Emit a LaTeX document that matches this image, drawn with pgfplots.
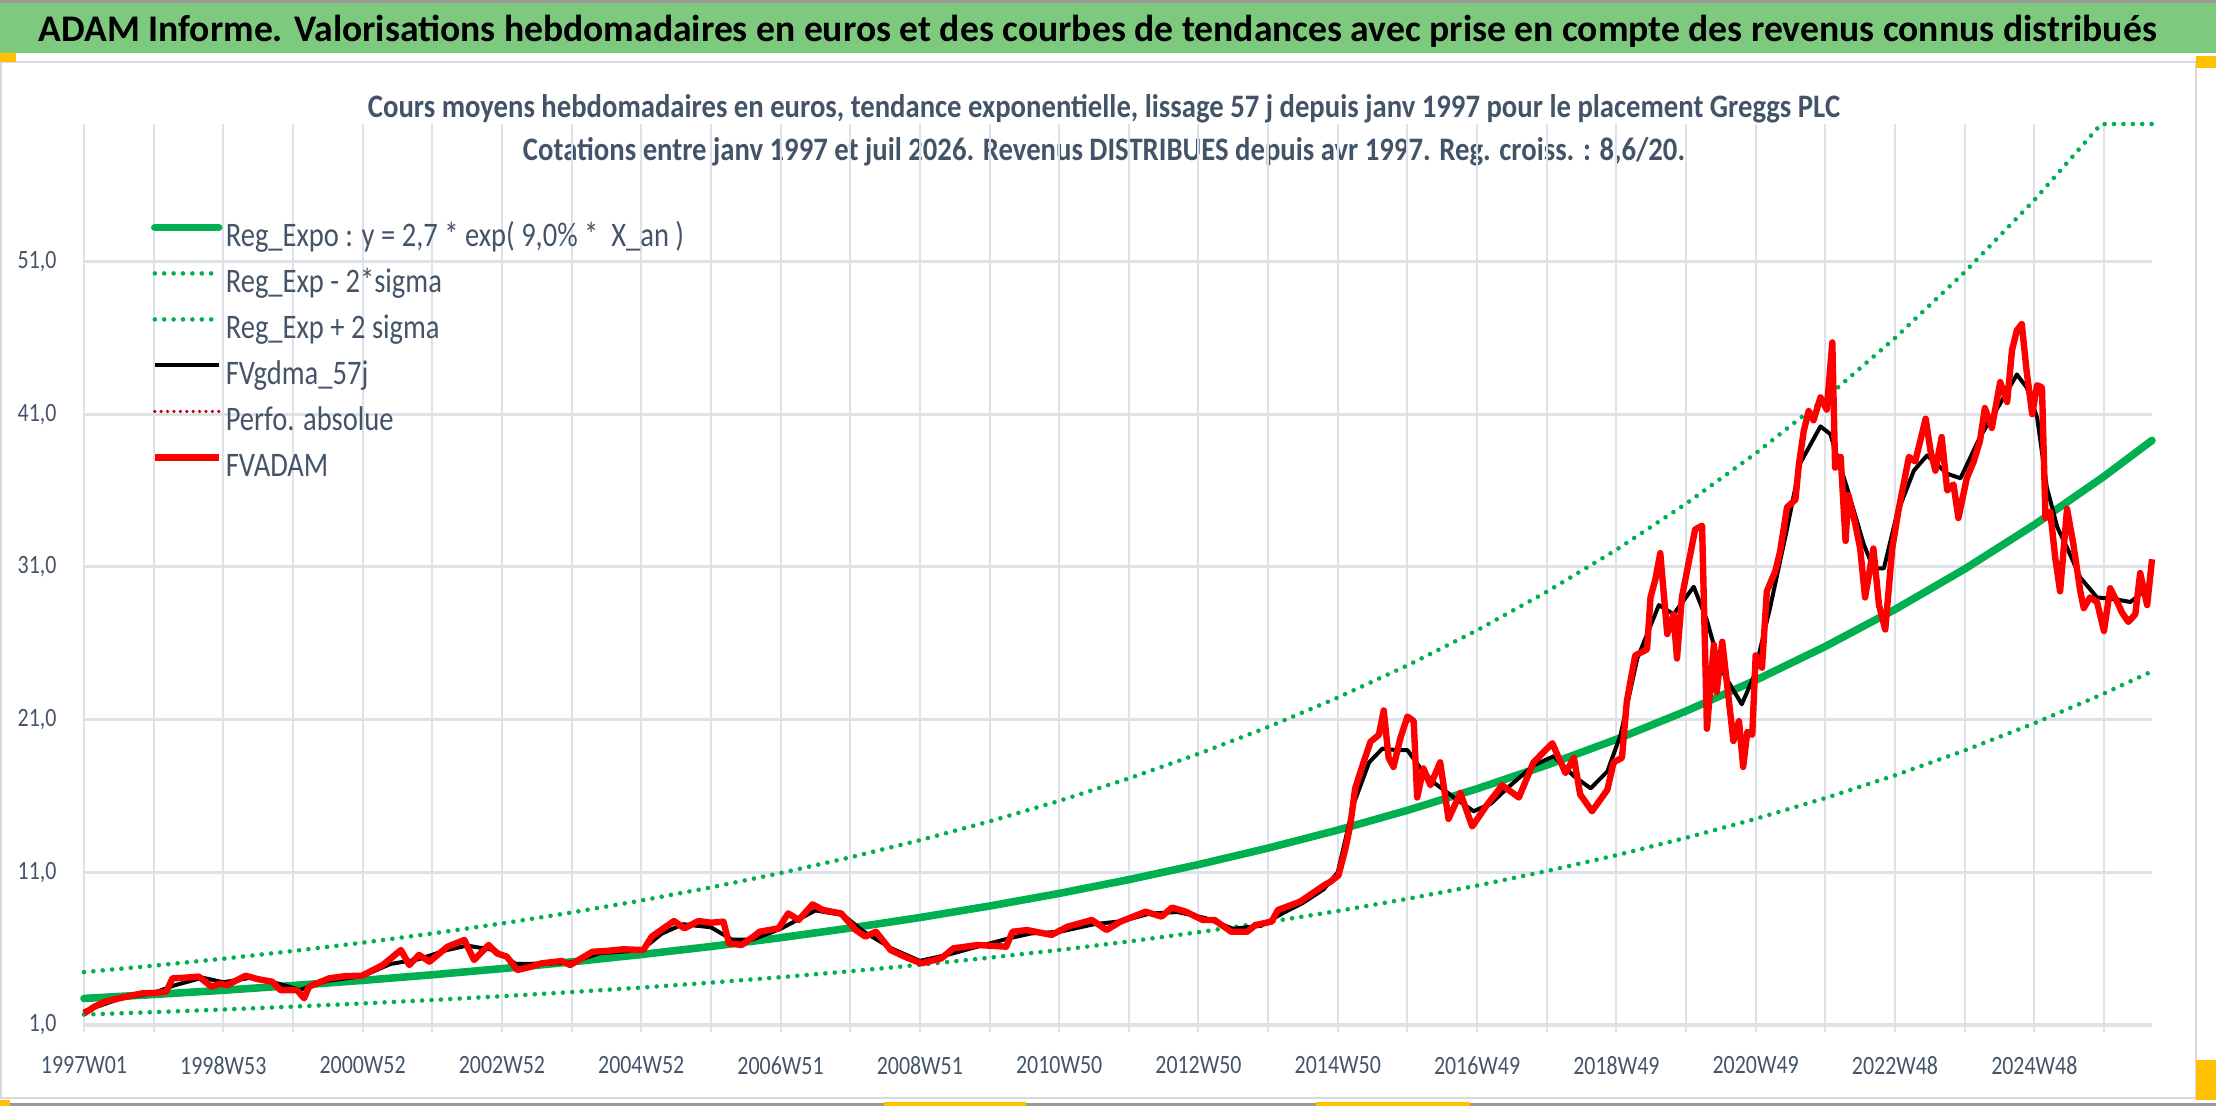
\documentclass[border=0pt]{standalone}
\usepackage{pgfplots}
\pgfplotsset{compat=1.18}
\usepackage{fontspec}
\setmainfont{Carlito}
\newfontfamily\chartfont{Carlito}[FakeStretch=0.83]
\newfontfamily\subfont{Carlito}[FakeStretch=0.875]
\definecolor{titlegreen}{HTML}{7DC97D}
\definecolor{slate}{HTML}{445468}
\definecolor{gridc}{HTML}{DEE2E8}
\definecolor{xlgreen}{HTML}{00B050}
\definecolor{darkred}{HTML}{C00000}
\definecolor{handle}{HTML}{FFC000}
\definecolor{borderc}{HTML}{D9D9D9}
\begin{document}
\begin{tikzpicture}
\useasboundingbox (0,0) rectangle (554pt,-276.5pt);
% title bar
\fill[titlegreen] (0,-0.75pt) rectangle (554pt,-13.25pt);
\draw[gray!80, line width=0.75pt] (0,-0.375pt) -- (554pt,-0.375pt);
\node[anchor=base west, inner sep=0pt, font=\fontsize{9.4pt}{10pt}\selectfont\bfseries] at (9.5pt,-10.4pt) {ADAM Informe. Valorisations hebdomadaires en euros et des courbes de tendances avec prise en compte des revenus connus distribués};
% chart frame
\draw[borderc, line width=0.6pt] (0.3pt,-15.5pt) rectangle (549pt,-274.5pt);
\draw[gray!80, line width=0.75pt] (0,-276.1pt) -- (554pt,-276.1pt);
\fill[handle] (0,-13.25pt) rectangle (4pt,-15.5pt);
\fill[handle] (549pt,-14pt) rectangle (554pt,-17pt);
\fill[handle] (549pt,-265pt) rectangle (554pt,-275pt);
\fill[handle] (0,-275pt) rectangle (2.5pt,-276.5pt);
\fill[handle] (221pt,-275.6pt) rectangle (256.5pt,-276.5pt);
\fill[handle] (329pt,-275.6pt) rectangle (367.5pt,-276.5pt);
% subtitles
\node[anchor=base, inner sep=0pt, text=slate, font=\subfont\bfseries\fontsize{8.2pt}{10pt}\selectfont] at (276pt,-29.25pt) {Cours moyens hebdomadaires en euros, tendance exponentielle, lissage 57 j depuis janv 1997 pour le placement Greggs PLC};
\node[anchor=base, inner sep=0pt, text=slate, font=\subfont\bfseries\fontsize{8.2pt}{10pt}\selectfont] at (276pt,-40pt) {Cotations entre janv 1997 et juil 2026. Revenus DISTRIBUES depuis avr 1997. Reg. croiss. : 8,6/20.};
\begin{axis}[
  at={(21pt,-256.25pt)}, anchor=south west,
  width=517pt, height=225.25pt, scale only axis,
  xmin=0, xmax=29.69, ymin=1, ymax=60,
  axis line style={draw=none},
  xtick={0,2,...,28},
  xticklabels={1997W01,1998W53,2000W52,2002W52,2004W52,2006W51,2008W51,2010W50,2012W50,2014W50,2016W49,2018W49,2020W49,2022W48,2024W48},
  minor xtick={1,3,...,29},
  ytick={1,11,...,51},
  xmajorgrids, xminorgrids, ymajorgrids,
  major x grid style={gridc, line width=0.5pt},
  minor x grid style={gridc, line width=0.5pt},
  major y grid style={gridc, line width=0.8pt},
  tick pos=left, tick align=outside,
  major tick length=1.75pt, minor tick length=1.75pt,
  tick style={gridc, line width=0.5pt},
  ytick style={draw=none},
  ticklabel style={font=\chartfont\fontsize{6.6pt}{7pt}\selectfont, text=slate},
  yticklabel style={xshift=-1.6pt},
  xticklabel style={yshift=-2.6pt},
  /pgf/number format/fixed, /pgf/number format/fixed zerofill,
  /pgf/number format/precision=1, /pgf/number format/use comma,
  /pgf/number format/assume math mode=true,
  clip=false,
  legend style={at={(0.0324,0.893)}, anchor=north west, draw=none, fill=none,
    inner sep=0pt, outer sep=0pt, row sep=2.6pt,
    font=\chartfont\fontsize{8.6pt}{9pt}\selectfont, text=slate,
    nodes={inner sep=0.8pt, text height=5.6pt, text depth=1.7pt}},
  legend cell align=left,
  legend image code/.code={\draw[#1] (0pt,2.7pt) -- (16pt,2.7pt);},
]
% Reg_Expo
\addplot[xlgreen, line width=1.9pt, line cap=round] coordinates {
(0,2.740) (1,2.997) (2,3.278) (3,3.586) (4,3.922) (5,4.290) (6,4.693) (7,5.133) (8,5.615) (9,6.142)
(10,6.718) (11,7.349) (12,8.038) (13,8.792) (14,9.617) (15,10.520) (16,11.507) (17,12.586) (18,13.767) (19,15.059)
(20,16.472) (21,18.018) (22,19.708) (23,21.557) (24,23.580) (25,25.792) (26,28.213) (27,30.860) (28,33.755) (29,36.923) (29.69,39.286)};
\addlegendentry{Reg\_Expo : y = 2,7 * exp( 9,0\% *~ X\_an )}
% lower
\addplot[xlgreen, line width=1.15pt, line cap=round, dash pattern=on 0pt off 2.35pt] coordinates {
(0,1.685) (1,1.843) (2,2.016) (3,2.205) (4,2.412) (5,2.638) (6,2.886) (7,3.157) (8,3.453) (9,3.777)
(10,4.132) (11,4.520) (12,4.943) (13,5.407) (14,5.914) (15,6.470) (16,7.077) (17,7.740) (18,8.467) (19,9.261)
(20,10.130) (21,11.081) (22,12.120) (23,13.258) (24,14.502) (25,15.862) (26,17.351) (27,18.979) (28,20.759) (29,22.708) (29.69,24.161)};
\addlegendentry{Reg\_Exp - 2*sigma}
% upper
\addplot[xlgreen, line width=1.15pt, line cap=round, dash pattern=on 0pt off 2.35pt] coordinates {
(0,4.466) (1,4.885) (2,5.343) (3,5.845) (4,6.393) (5,6.993) (6,7.650) (7,8.367) (8,9.152) (9,10.011)
(10,10.950) (11,11.979) (12,13.102) (13,14.331) (14,15.676) (15,17.148) (16,18.756) (17,20.515) (18,22.440) (19,24.546)
(20,26.849) (21,29.369) (22,32.124) (23,35.138) (24,38.435) (25,42.041) (26,45.987) (27,50.302) (28,55.021) (28.96,60) (29,60) (29.69,60)};
\addlegendentry{Reg\_Exp + 2 sigma}
% FVgdma_57j
\addplot[black, line width=1.0pt, line join=round] coordinates {
(0,1.9) (0.5,2.7) (1.0,3.1) (1.3,3.6) (1.7,4.1) (2.0,3.8) (2.4,4.1) (2.8,3.7) (3.1,3.3) (3.5,3.9)
(4.0,4.2) (4.4,5.0) (4.8,5.3) (5.2,5.9) (5.5,6.2) (5.9,5.9) (6.2,5.0) (6.6,5.0) (7.0,5.1) (7.4,5.7)
(8.0,5.9) (8.3,7.0) (8.6,7.6) (9.0,7.4) (9.3,6.6) (9.6,6.6) (10.0,7.3) (10.5,8.5) (10.9,8.2) (11.2,7.1)
(11.6,6.0) (12.0,5.2) (12.4,5.6) (12.8,6.1) (13.3,6.7) (13.6,7.0) (14.0,7.1) (14.5,7.6) (14.9,7.8) (15.3,8.3)
(15.7,8.4) (16.1,8.0) (16.5,7.3) (16.9,7.5) (17.2,8.3) (17.5,9.0) (17.8,9.9) (18.0,11.0) (18.23,15.5) (18.45,18.2)
(18.64,19.1) (18.85,19.0) (19.0,19.0) (19.19,17.8) (19.4,16.8) (19.67,15.9) (19.95,15.0) (20.2,15.5) (20.43,16.5) (20.81,18.0)
(21.1,18.6) (21.39,17.3) (21.63,16.5) (21.87,17.6) (22.06,20.0) (22.3,25.0) (22.61,28.5) (22.82,27.9) (23.11,29.7) (23.30,27.5)
(23.49,24.4) (23.80,22.0) (23.97,23.8) (24.21,28.4) (24.45,33.5) (24.64,37.8) (24.93,40.2) (25.07,39.7) (25.31,36.2) (25.55,32.5)
(25.69,30.9) (25.84,30.9) (26.03,34.5) (26.27,37.3) (26.46,38.3) (26.75,37.1) (26.94,36.8) (27.22,39.5) (27.51,41.7) (27.75,43.6)
(27.89,42.75) (28.04,40.8) (28.18,36.2) (28.33,33.6) (28.47,32.25) (28.66,30.3) (28.9,29.0) (29.14,28.9) (29.38,28.7) (29.57,29.4) (29.67,30.0)};
\addlegendentry{FVgdma\_57j}
\addlegendimage{darkred, line width=0.9pt, line cap=round, dash pattern=on 0pt off 1.6pt}
\addlegendentry{Perfo. absolue}
% FVADAM
\addplot[red, line width=1.6pt, line join=round] coordinates {
(0,1.76) (0.15,2.2) (0.3,2.53) (0.55,2.8) (0.83,3.07) (1.0,3.1) (1.18,3.18) (1.27,4.06) (1.45,4.1) (1.65,4.17)
(1.83,3.51) (1.95,3.7) (2.06,3.62) (2.32,4.23) (2.5,4.0) (2.70,3.84) (2.82,3.29) (3.06,3.29) (3.16,2.75) (3.23,3.51)
(3.52,4.06) (3.75,4.2) (3.99,4.23) (4.29,4.93) (4.55,5.91) (4.67,4.93) (4.81,5.59) (4.96,5.15) (5.22,6.13) (5.46,6.57)
(5.60,5.26) (5.81,6.24) (5.93,5.69) (6.07,5.48) (6.22,4.60) (6.4,4.8) (6.57,5.04) (6.86,5.19) (6.98,4.93) (7.30,5.80)
(7.5,5.85) (7.74,5.96) (8.03,5.91) (8.15,6.79) (8.47,7.81) (8.62,7.33) (8.82,7.81) (9.0,7.7) (9.18,7.77) (9.26,6.35)
(9.44,6.24) (9.61,6.79) (9.70,7.11) (9.97,7.33) (10.11,8.31) (10.26,7.88) (10.46,8.90) (10.61,8.53) (10.87,8.31) (11.08,7.22)
(11.22,6.79) (11.37,7.11) (11.58,5.91) (11.78,5.48) (12.02,5.04) (12.31,5.37) (12.48,6.02) (12.83,6.24) (13.24,6.13) (13.33,7.11)
(13.54,7.22) (13.89,6.90) (14.12,7.44) (14.47,7.88) (14.68,7.22) (14.88,7.77) (15.24,8.42) (15.47,8.10) (15.62,8.69) (15.82,8.42)
(16.06,7.88) (16.23,7.88) (16.47,7.11) (16.70,7.11) (16.82,7.55) (17.05,7.77) (17.14,8.53) (17.46,9.08) (17.81,10.17) (17.89,10.37)
(18.01,10.8) (18.11,12.55) (18.18,14.1) (18.25,16.5) (18.37,18.2) (18.47,19.55) (18.59,20.0) (18.66,21.6) (18.73,18.5) (18.80,17.9)
(18.90,19.8) (19.0,21.2) (19.09,20.9) (19.14,15.9) (19.23,17.8) (19.33,16.7) (19.47,18.2) (19.59,14.5) (19.76,16.2) (19.93,14.0)
(20.14,15.4) (20.36,16.7) (20.60,15.9) (20.81,18.2) (21.08,19.45) (21.27,17.5) (21.39,18.5) (21.48,16.1) (21.65,15.0) (21.87,16.4)
(21.96,18.2) (22.08,18.5) (22.15,22.2) (22.27,25.2) (22.44,25.6) (22.49,29.0) (22.56,30.2) (22.63,31.9) (22.73,26.6) (22.82,27.9)
(22.87,25.0) (22.94,29.0) (23.06,31.8) (23.13,33.45) (23.23,33.7) (23.30,20.4) (23.40,25.9) (23.44,22.8) (23.52,26.1) (23.68,19.6)
(23.76,20.9) (23.82,17.9) (23.88,20.2) (23.95,20.0) (24.0,25.2) (24.09,24.4) (24.16,29.4) (24.28,30.7) (24.35,32.0) (24.45,34.9)
(24.57,35.4) (24.62,37.7) (24.69,39.9) (24.76,41.2) (24.83,40.6) (24.93,42.1) (25.02,41.3) (25.10,45.7) (25.14,37.5) (25.22,38.2)
(25.29,32.7) (25.33,35.7) (25.43,33.8) (25.50,32.2) (25.57,29.0) (25.69,32.2) (25.77,28.5) (25.86,26.9) (25.96,32.2) (26.05,34.7)
(26.20,38.2) (26.29,37.9) (26.44,40.7) (26.51,38.6) (26.58,37.3) (26.67,39.5) (26.75,36.0) (26.84,36.4) (26.91,34.2) (27.03,36.8)
(27.13,37.9) (27.22,39.25) (27.29,41.4) (27.39,40.1) (27.51,43.1) (27.61,41.8) (27.68,45.2) (27.75,46.5) (27.82,46.9) (27.89,43.8)
(27.97,41.0) (28.04,42.9) (28.11,42.75) (28.16,34.2) (28.23,34.6) (28.30,31.6) (28.37,29.4) (28.47,34.8) (28.56,32.5) (28.66,29.4)
(28.71,28.3) (28.80,29.0) (28.90,28.7) (29.0,26.8) (29.09,29.6) (29.19,28.7) (29.26,28.0) (29.35,27.4) (29.45,27.9) (29.52,30.6)
(29.62,28.5) (29.69,31.5)};
\addlegendentry{FVADAM}
\end{axis}
\end{tikzpicture}
\end{document}
